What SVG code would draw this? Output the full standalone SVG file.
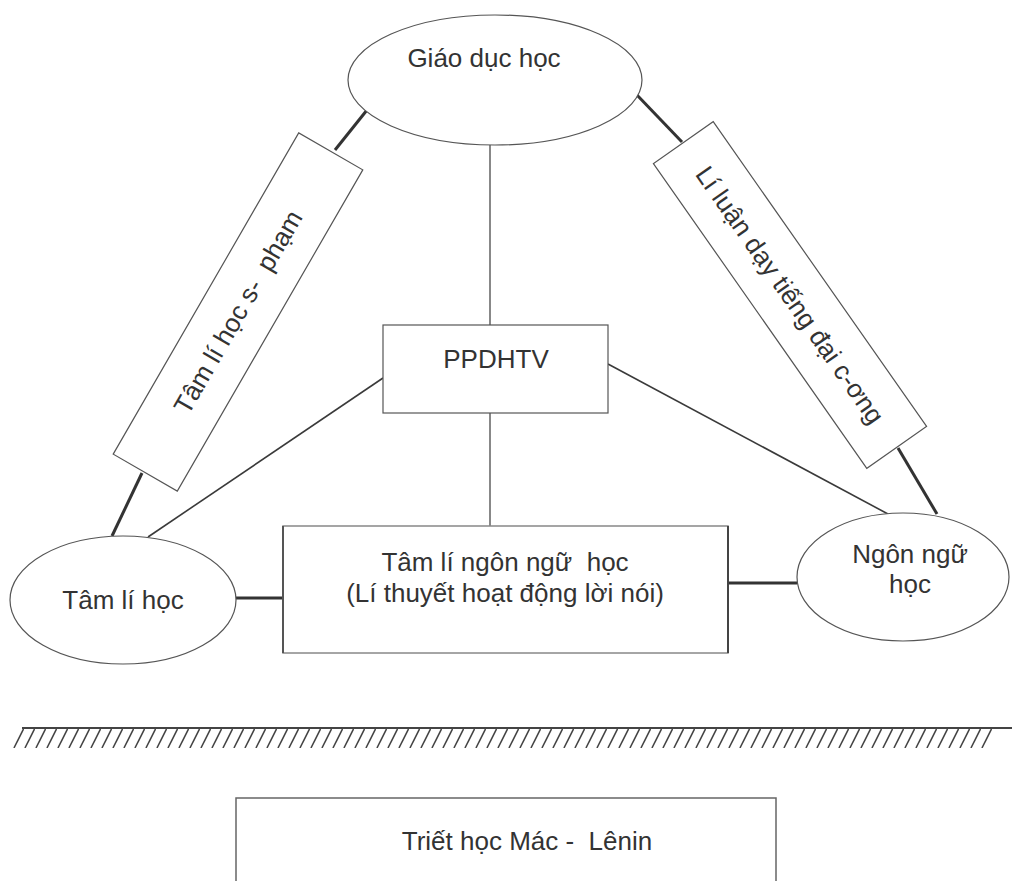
<svg xmlns="http://www.w3.org/2000/svg" width="1012" height="881" viewBox="0 0 1012 881">
<style>
text{font-family:"Liberation Sans",Arial,sans-serif;font-size:26px;fill:#333;text-anchor:middle;white-space:pre}
.node{fill:#fff;stroke:#555;stroke-width:1.2}
.thick{stroke:#333;stroke-width:3;fill:none}
.thin{stroke:#3a3a3a;stroke-width:1.6;fill:none}
.gray{stroke:#888;stroke-width:2;fill:none}
</style>
<defs>
<pattern id="hatch" patternUnits="userSpaceOnUse" x="13" y="729" width="11" height="20">
<line x1="10.5" y1="0" x2="1" y2="19" stroke="#444" stroke-width="1.6"/>
</pattern>
</defs>
<rect width="1012" height="881" fill="#fff"/>
<g id="connectors">
<line class="thick" x1="367" y1="110" x2="335" y2="150"/>
<line class="thick" x1="142" y1="473" x2="112" y2="536"/>
<line class="thick" x1="636" y1="94" x2="682" y2="142"/>
<line class="thick" x1="898" y1="448" x2="937" y2="514"/>
<line class="gray" x1="490" y1="145" x2="490" y2="325"/>
<line class="gray" x1="490" y1="413" x2="490" y2="526"/>
<line class="thin" x1="383" y1="378" x2="148" y2="537"/>
<line class="thin" x1="608" y1="364" x2="888" y2="514"/>
<line class="thick" x1="236" y1="598" x2="283" y2="598"/>
<line class="thick" x1="728" y1="583" x2="797" y2="583"/>
</g>
<g id="giao-duc-hoc">
<ellipse class="node" cx="495" cy="80" rx="147" ry="65"/>
<text x="484" y="67">Giáo dục học</text>
</g>
<g id="tam-li-hoc-su-pham" transform="translate(238,312) rotate(-60)">
<rect class="node" x="-185.5" y="-37" width="371" height="74"/>
<text x="0" y="9">Tâm lí học s-  phạm</text>
</g>
<g id="li-luan-day-tieng" transform="translate(790,295) rotate(55)">
<rect class="node" x="-186" y="-36.5" width="372" height="73"/>
<text x="0" y="9">Lí luận dạy tiếng đại c-ơng</text>
</g>
<g id="ppdhtv">
<rect class="node" x="383" y="325" width="225" height="88"/>
<text x="496" y="368">PPDHTV</text>
</g>
<g id="tam-li-hoc">
<ellipse class="node" cx="123" cy="600" rx="113" ry="64"/>
<text x="123" y="609">Tâm lí học</text>
</g>
<g id="tam-li-ngon-ngu-hoc">
<rect x="283" y="526" width="445" height="127" fill="#fff" stroke="#888" stroke-width="1.5"/>
<line x1="283" y1="526" x2="283" y2="653" stroke="#555" stroke-width="2"/>
<line x1="728" y1="526" x2="728" y2="653" stroke="#444" stroke-width="2"/>
<text x="505" y="571">Tâm lí ngôn ngữ  học</text>
<text x="505" y="602">(Lí thuyết hoạt động lời nói)</text>
</g>
<g id="ngon-ngu-hoc">
<ellipse class="node" cx="903" cy="577" rx="106" ry="64"/>
<text x="910" y="563">Ngôn ngữ</text>
<text x="910" y="593">học</text>
</g>
<g id="ground">
<line x1="22" y1="728" x2="1012" y2="728" stroke="#444" stroke-width="2"/>
<rect x="13" y="729" width="979" height="19" fill="url(#hatch)"/>
</g>
<g id="triet-hoc">
<path d="M236 881 V798 H776 V881" fill="#fff" stroke="#666" stroke-width="1.5"/>
<text x="527" y="850">Triết học Mác -  Lênin</text>
</g>
</svg>
